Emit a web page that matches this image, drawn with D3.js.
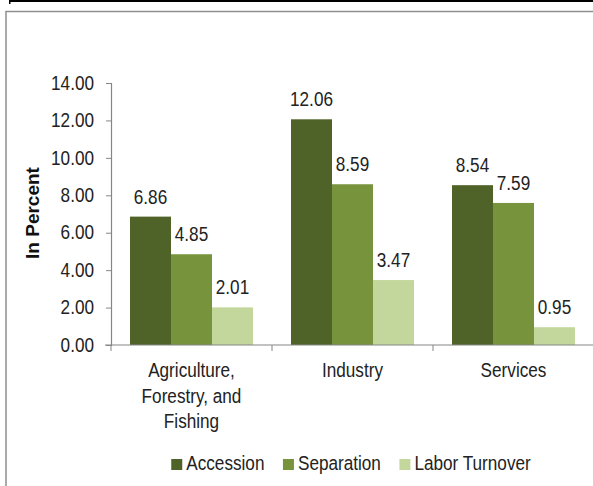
<!DOCTYPE html>
<html><head><meta charset="utf-8">
<script src="https://cdn.jsdelivr.net/npm/d3@7"></script>
<style>
html,body{margin:0;padding:0;background:#fff;}
svg{display:block;font-family:"Liberation Sans",Arial,sans-serif;}
</style></head>
<body>
<svg id="chart" width="593" height="486"></svg>
<script>
const categories = [["Agriculture,","Forestry, and","Fishing"],["Industry"],["Services"]];
const categoryKeys = ["Agriculture, Forestry, and Fishing","Industry","Services"];
const seriesNames = ["Accession","Separation","Labor Turnover"];
const accession = [6.86, 12.06, 8.54];
const separation = [4.85, 8.59, 7.59];
const laborTurnover = [2.01, 3.47, 0.95];
const yTicks = [0,2,4,6,8,10,12,14];
const colors = ["#4f6228","#77933c","#c3d69b"];

const series = [accession, separation, laborTurnover];
const svg = d3.select("#chart");
const FS = 19.5, SX = 0.88, TXT = "#222";

// helper: condensed text at (x,y)
function ctext(parent, x, y, str, anchor){
  return parent.append("text")
    .attr("transform", `translate(${x},${y}) scale(${SX},1)`)
    .attr("text-anchor", anchor || "start")
    .attr("font-size", FS).attr("fill", TXT).text(str);
}

// frame
svg.append("rect").attr("x",10).attr("y",0).attr("width",583).attr("height",2).attr("fill","#000");
svg.append("rect").attr("x",9).attr("y",0).attr("width",1.5).attr("height",4).attr("fill","#000");
svg.append("rect").attr("x",6).attr("y",11.5).attr("width",640).attr("height",520)
  .attr("fill","none").attr("stroke","#8f8f8f").attr("stroke-width",1.5);

const plotLeft = 111, plotRight = 594, plotTop = 83, plotBottom = 345;
const x0 = d3.scaleBand().domain(categoryKeys).range([plotLeft,plotRight]).padding(0);
const x1 = d3.scaleBand().domain(seriesNames).range([19, x0.bandwidth()-19]).padding(0);
const y = d3.scaleLinear().domain([0,14]).range([plotBottom, plotTop]);

// y axis
const yAxis = svg.append("g").attr("transform",`translate(${plotLeft},0)`)
  .call(d3.axisLeft(y).tickValues(yTicks).tickFormat(d3.format(".2f")).tickSize(5).tickPadding(12));
yAxis.select(".domain").attr("stroke","#868686").attr("stroke-width",1.2);
yAxis.selectAll(".tick line").attr("stroke","#868686");
yAxis.selectAll(".tick text")
  .attr("font-size",FS).attr("fill",TXT).attr("font-family","Liberation Sans, Arial, sans-serif")
  .attr("x", -17/SX).attr("transform",`scale(${SX},1)`);

// bars
const groups = svg.append("g").selectAll("g").data(categoryKeys).join("g")
  .attr("transform", d => `translate(${x0(d)},0)`);
groups.each(function(cat, ci){
  const g = d3.select(this);
  seriesNames.forEach((s, si) => {
    const v = series[si][ci];
    g.append("rect").attr("x", x1(s)).attr("y", y(v))
      .attr("width", x1.bandwidth()).attr("height", y(0)-y(v)).attr("fill", colors[si]);
    ctext(g, x1(s)+x1.bandwidth()/2, y(v)-13, v.toFixed(2), "middle");
  });
});

// x axis
const xAxisG = svg.append("g").attr("transform",`translate(0,${plotBottom})`);
xAxisG.append("line").attr("x1",plotLeft-6).attr("x2",plotRight).attr("y1",0).attr("y2",0)
  .attr("stroke","#868686").attr("stroke-width",1.2);
const boundaries = categoryKeys.map(k => x0(k)).concat([x0(categoryKeys[2])+x0.bandwidth()]);
xAxisG.selectAll("line.tk").data(boundaries).join("line").attr("class","tk")
  .attr("x1",d=>d).attr("x2",d=>d).attr("y1",0).attr("y2",6).attr("stroke","#868686");
categories.forEach((lines, ci) => {
  lines.forEach((ln, li) => {
    ctext(svg, x0(categoryKeys[ci]) + x0.bandwidth()/2, 377 + li*25.5, ln, "middle");
  });
});

// y title
svg.append("text").attr("transform",`translate(39,213) rotate(-90)`)
  .attr("text-anchor","middle").attr("font-size",19).attr("font-weight","bold").attr("fill","#111")
  .text("In Percent");

// legend
const leg = svg.append("g");
let lx = 0;
seriesNames.forEach((s, i) => {
  const g = leg.append("g").attr("transform",`translate(${lx},0)`);
  g.append("rect").attr("x",0).attr("y",-11).attr("width",11).attr("height",11).attr("fill",colors[i]);
  const t = ctext(g, 15, 0, s, "start");
  lx += 15 + t.node().getComputedTextLength()*SX + 18.5;
});
const legW = lx - 18.5;
leg.attr("transform",`translate(${351 - legW/2},470)`);
</script>
</body></html>
